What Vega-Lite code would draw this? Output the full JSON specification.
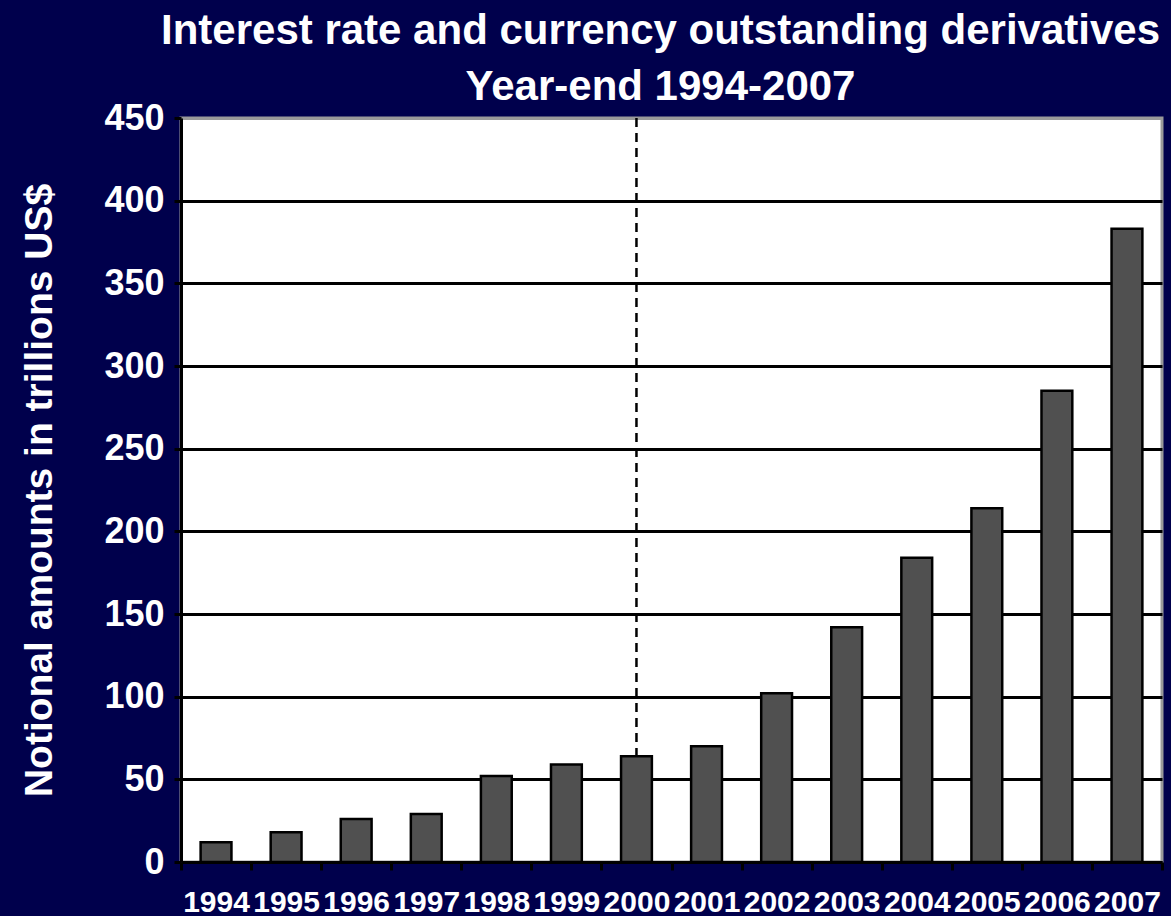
{
  "$schema": "https://vega.github.io/schema/vega-lite/v6.json",
  "width": 981,
  "height": 744,
  "autosize": {"type": "none"},
  "padding": {"left": 181, "top": 118, "right": 9, "bottom": 54},
  "background": "#00004c",
  "config": {
    "font": "Liberation Sans",
    "view": {"fill": "white", "stroke": "#9a9a9a", "strokeWidth": 3}
  },
  "title": {
    "text": ["Interest rate and currency outstanding derivatives", "Year-end 1994-2007"],
    "font": "Liberation Sans",
    "fontSize": 42,
    "fontWeight": "bold",
    "color": "white",
    "anchor": "middle",
    "frame": "group",
    "lineHeight": 56,
    "dx": -11,
    "offset": -9
  },
  "datasets": {
    "bars": [
      {"year": "1994", "value": 12},
      {"year": "1995", "value": 18},
      {"year": "1996", "value": 26},
      {"year": "1997", "value": 29},
      {"year": "1998", "value": 52},
      {"year": "1999", "value": 59},
      {"year": "2000", "value": 64},
      {"year": "2001", "value": 70},
      {"year": "2002", "value": 102},
      {"year": "2003", "value": 142},
      {"year": "2004", "value": 184},
      {"year": "2005", "value": 214},
      {"year": "2006", "value": 285},
      {"year": "2007", "value": 383}
    ],
    "divider": [
      {"year": "2000", "top": 450, "bottom": 64}
    ]
  },
  "layer": [
    {
      "data": {"name": "bars"},
      "mark": {"type": "bar", "width": {"band": 0.44}, "fill": "#505050", "stroke": "black", "strokeWidth": 2.5},
      "encoding": {
        "x": {
          "field": "year",
          "type": "ordinal",
          "scale": {"paddingInner": 0, "paddingOuter": 0},
          "axis": {
            "title": null,
            "labelAngle": 0,
            "labelColor": "white",
            "labelFont": "Liberation Sans",
            "labelFontSize": 30,
            "labelFontWeight": "bold",
            "labelPadding": 17,
            "tickBand": "extent",
            "tickSize": 8,
            "tickWidth": 3,
            "tickColor": "black",
            "domainColor": "black",
            "domainWidth": 3,
            "grid": false
          }
        },
        "y": {
          "field": "value",
          "type": "quantitative",
          "scale": {"domain": [0, 450], "nice": false},
          "axis": {
            "title": "Notional amounts in trillions US$",
            "titleColor": "white",
            "titleFont": "Liberation Sans",
            "titleFontSize": 39,
            "titleFontWeight": "bold",
            "titlePadding": 44,
            "values": [0, 50, 100, 150, 200, 250, 300, 350, 400, 450],
            "labelColor": "white",
            "labelFont": "Liberation Sans",
            "labelFontSize": 36,
            "labelFontWeight": "bold",
            "labelPadding": 10,
            "tickSize": 7,
            "tickWidth": 3,
            "tickColor": "black",
            "domainColor": "black",
            "domainWidth": 3,
            "grid": true,
            "gridColor": {"condition": {"test": "datum.value === 450", "value": "#9a9a9a"}, "value": "black"},
            "gridWidth": 3,
            "gridOpacity": 1
          }
        }
      }
    },
    {
      "data": {"name": "divider"},
      "mark": {"type": "rule", "stroke": "black", "strokeWidth": 2.5, "strokeDash": [9, 6]},
      "encoding": {
        "x": {"field": "year", "type": "ordinal"},
        "y": {"field": "top", "type": "quantitative"},
        "y2": {"field": "bottom"}
      }
    }
  ]
}
